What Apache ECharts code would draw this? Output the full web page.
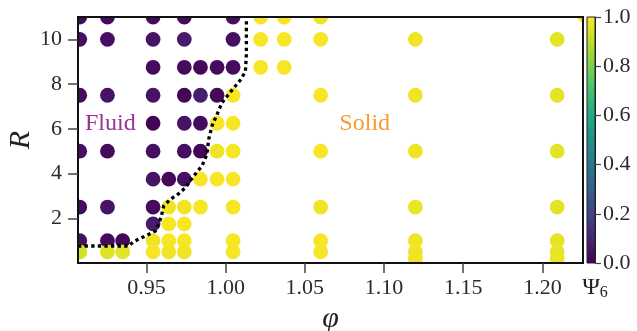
<!DOCTYPE html>
<html><head><meta charset="utf-8">
<script src="https://cdn.jsdelivr.net/npm/echarts@6/dist/echarts.min.js"></script>
<style>html,body{margin:0;padding:0;background:#fff}#c{width:637px;height:331px}</style>
</head><body><div id="c"></div>
<script>
// ---- data ----
const colPhi = [0.9079, 0.9254, 0.9350, 0.9542, 0.9641, 0.9739, 0.9841, 0.9946, 1.0047, 1.0221, 1.0370, 1.0600, 1.1198, 1.2093, 1.2262];
const colR = [
  [11, 10, 7.5, 5, 2.5, 1, 0.5],
  [11, 10, 7.5, 5, 2.5, 1, 0.5],
  [1, 0.5],
  [11, 10, 8.75, 7.5, 6.25, 5, 3.75, 2.5, 1.75, 1, 0.5],
  [3.75, 2.5, 1.75, 1, 0.5],
  [11, 10, 8.75, 7.5, 6.25, 5, 3.75, 2.5, 1.75, 1, 0.5],
  [8.75, 7.5, 6.25, 5, 3.75, 2.5],
  [8.75, 7.5, 6.25, 5, 3.75],
  [11, 10, 8.75, 7.5, 6.25, 5, 3.75, 2.5, 1, 0.5],
  [11, 10, 8.75],
  [11, 10, 8.75],
  [11, 10, 7.5, 5, 2.5, 1, 0.5],
  [10, 7.5, 5, 2.5, 1, 0.5, 0.2],
  [10, 7.5, 5, 2.5, 1, 0.5, 0.2],
  [11.1]
];
const colPsi6 = [
  [0.03, 0.04, 0.03, 0.04, 0.03, 0.04, 0.93],
  [0.03, 0.04, 0.05, 0.03, 0.05, 0.03, 0.95],
  [0.02, 0.96],
  [0.03, 0.05, 0.03, 0.05, 0.01, 0.04, 0.05, 0.03, 0.07, 0.98, 0.99],
  [0.02, 0.98, 0.99, 0.99, 0.98],
  [0.03, 0.07, 0.03, 0.01, 0.05, 0.04, 0.04, 0.98, 0.99, 0.99, 0.98],
  [0.02, 0.08, 0.03, 0.01, 0.99, 0.99],
  [0.03, 0.02, 0.99, 0.98, 0.99],
  [0.04, 0.04, 0.03, 0.99, 0.99, 0.99, 0.99, 0.99, 0.99, 0.99],
  [0.99, 0.99, 0.99],
  [0.99, 0.99, 0.99],
  [0.98, 0.99, 0.99, 0.99, 0.98, 0.99, 0.99],
  [0.98, 0.98, 0.98, 0.97, 0.98, 0.98, 0.98],
  [0.96, 0.96, 0.96, 0.96, 0.96, 0.97, 0.97],
  [0.98]
];
const boundaryPhi = [0.9068, 0.9388, 0.9420, 0.9494, 0.9557, 0.9592, 0.9609, 0.9651, 0.9704, 0.9746, 0.9798, 0.9851, 0.9882, 0.9893, 0.9914, 0.9946, 0.9977, 1.0040, 1.0093, 1.0125, 1.0131, 1.0131];
const boundaryR   = [0.76, 0.76, 0.96, 1.21, 1.43, 2.03, 2.55, 2.85, 3.10, 3.37, 3.89, 4.34, 4.86, 5.53, 6.13, 6.65, 7.17, 7.73, 8.18, 8.56, 9.37, 11.0];
const regionNames = ['Fluid', 'Solid'];
const regionPhi = [0.9272, 1.0878];
const regionR = [6.25, 6.25];
const xTicks = [0.95, 1.00, 1.05, 1.10, 1.15, 1.20];
const yTicks = [2, 4, 6, 8, 10];

// ---- styling ----
const FONT = '"Liberation Serif", serif';
const viridis = ['#440154', '#482475', '#414487', '#355f8d', '#2a788e', '#21918c', '#22a884', '#44bf70', '#7ad151', '#bddf26', '#fde725'];
const regionColors = ['#993399', '#fb9a2c'];

const points = [];
colPhi.forEach((p, i) => colR[i].forEach((r, j) => points.push([p, r, colPsi6[i][j]])));
const boundary = boundaryPhi.map((p, i) => [p, boundaryR[i]]);
const regions = regionPhi.map((p, i) => [p, regionR[i]]);

const chart = echarts.init(document.getElementById('c'));
const tickLabel = {fontFamily: FONT, fontSize: 22, color: '#2b2b2b'};
chart.setOption({
  animation: false,
  grid: [
    {left: 78, top: 17, width: 505, height: 246, show: true, borderColor: '#111', borderWidth: 2, z: 5, containLabel: false, outerBoundsMode: 'none'},
    {left: 587, top: 17, width: 8, height: 246, show: true, borderColor: '#222', borderWidth: 1, z: 5, containLabel: false, outerBoundsMode: 'none'}
  ],
  visualMap: {type: 'continuous', show: false, min: 0, max: 1, dimension: 2, seriesIndex: 0, inRange: {color: viridis}},
  xAxis: [
    {type: 'value', gridIndex: 0, min: 0.9068, max: 1.2256, z: 6,
     axisLine: {show: true, onZero: false, lineStyle: {color: '#111', width: 2}},
     axisTick: {show: true, length: 10, customValues: xTicks, lineStyle: {color: '#444', width: 1.5}},
     axisLabel: Object.assign({customValues: xTicks, margin: 14, formatter: v => v.toFixed(2)}, tickLabel),
     splitLine: {show: false},
     name: 'φ', nameLocation: 'middle', nameGap: 40,
     nameTextStyle: {fontFamily: FONT, fontStyle: 'italic', fontSize: 30, color: '#222'}},
    {type: 'category', gridIndex: 1, data: ['cb'], show: false}
  ],
  yAxis: [
    {type: 'value', gridIndex: 0, min: 0, max: 11, z: 6,
     axisLine: {show: true, onZero: false, lineStyle: {color: '#111', width: 2}},
     axisTick: {show: true, length: 10, customValues: yTicks, lineStyle: {color: '#444', width: 1.5}},
     axisLabel: Object.assign({customValues: yTicks, margin: 16}, tickLabel),
     splitLine: {show: false},
     name: 'R', nameLocation: 'middle', nameGap: 36, nameMoveOverlap: false,
     nameTextStyle: {fontFamily: FONT, fontStyle: 'italic', fontSize: 30, lineHeight: 42, color: '#222'}},
    {type: 'value', gridIndex: 1, min: 0, max: 1, interval: 0.2, position: 'right', z: 6,
     axisLine: {show: true, lineStyle: {color: '#222', width: 1}},
     axisTick: {show: true, length: 6, lineStyle: {color: '#444', width: 1.2}},
     axisLabel: Object.assign({margin: 8, formatter: v => v.toFixed(1)}, tickLabel),
     splitLine: {show: false},
     name: 'Ψ{s|6}', nameLocation: 'start', nameGap: 12,
     nameTextStyle: {fontFamily: FONT, fontSize: 24, color: '#222', align: 'center',
       rich: {s: {fontFamily: FONT, fontSize: 16, color: '#222', padding: [10, 0, 0, 0]}}}}
  ],
  series: [
    {type: 'custom', xAxisIndex: 0, yAxisIndex: 0, clip: true, data: points, z: 2,
     renderItem: (params, api) => {
       const c = api.coord([api.value(0), api.value(1)]);
       return {type: 'circle', shape: {cx: c[0], cy: c[1], r: 7.4}, style: {fill: api.visual('color')}};
     }},
    {type: 'line', xAxisIndex: 0, yAxisIndex: 0, data: boundary, showSymbol: false, clip: true, z: 3,
     lineStyle: {color: '#000', width: 3.3, type: [3.3, 3.3]}},
    {type: 'custom', xAxisIndex: 0, yAxisIndex: 0, data: regions, z: 4,
     renderItem: (params, api) => {
       const c = api.coord([api.value(0), api.value(1)]);
       return {type: 'text', x: c[0], y: c[1], style: {text: regionNames[params.dataIndex], fill: regionColors[params.dataIndex],
         fontFamily: FONT, fontSize: 24, align: 'center', verticalAlign: 'middle'}};
     }},
    {type: 'bar', xAxisIndex: 1, yAxisIndex: 1, data: [1], barWidth: '100%', silent: true,
     itemStyle: {color: {type: 'linear', x: 0, y: 0, x2: 0, y2: 1,
       colorStops: viridis.slice().reverse().map((col, i, a) => ({offset: i / (a.length - 1), color: col}))}}}
  ]
});
</script></body></html>
